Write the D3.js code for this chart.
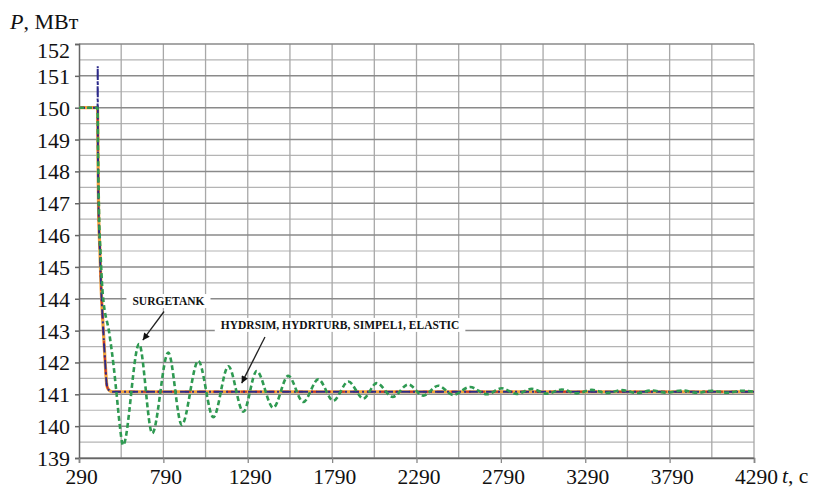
<!DOCTYPE html>
<html><head><meta charset="utf-8">
<script src="https://cdn.jsdelivr.net/npm/d3@7"></script>
<style>body{margin:0;background:#fff}svg{display:block}</style>
</head><body>
<svg id="c" width="823" height="495"></svg>
<script>
// ---- data ----
const yTicks = [139,140,141,142,143,144,145,146,147,148,149,150,151,152];
const yMinorGrid = [139.5,140.5,141.5,142.5,143.5,144.5,145.5,146.5,147.5,148.5,149.5,150.5,151.5];
const xTicks = [290,790,1290,1790,2290,2790,3290,3790,4290];
const xGrid = [540,790,1040,1290,1540,1790,2040,2290,2540,2790,3040,3290,3540,3790,4040,4290];

// HYDRSIM, HYDRTURB, SIMPEL1, ELASTIC (coincident curves)
const tMain = [290,400,402,406,414,420,430,444,456,470,490,4290];
const pMain = [150,150,148.8,146.8,145.5,144.5,143.4,142.1,141.25,141.12,141.08,141.08];
// blue curve with the initial overshoot
const tBlue = [290,400,401,402,406,414,420,430,444,456,470,490,4290];
const pBlue = [150,150,151.3,148.8,146.8,145.5,144.5,143.4,142.1,141.25,141.12,141.08,141.08];
// SURGETANK
const tGreen = [290,400,403,410,417,425,430,470,495,512,530,551,646,724,819,899,997,1086,1175,1264,1343,1441,1530,1619,1708,1797,1886,1975,2054,2149,2241,2330,2419,2508,2607,2706,2795,2884,2973,3062,3151,3240,3329,3418,3507,3596,3685,3774,3863,3952,4041,4130,4219,4290];
const pGreen = [150,150,148.6,146.4,145.5,144.6,144.2,142.9,141.9,141.05,140.1,139.4,142.58,139.78,142.31,140.04,142.05,140.28,141.88,140.45,141.73,140.58,141.58,140.76,141.47,140.8,141.4,140.87,141.35,140.92,141.31,140.96,141.27,140.98,141.23,141.0,141.19,141.01,141.17,141.02,141.15,141.03,141.14,141.04,141.13,141.04,141.12,141.05,141.12,141.05,141.11,141.05,141.11,141.08];

// annotations
const annLabels = ["SURGETANK", "HYDRSIM, HYDRTURB, SIMPEL1, ELASTIC"];
const annLabelT = [820, 1837];
const annLabelP = [143.93, 143.18];
const annFromT = [794, 1392];
const annFromP = [143.6, 142.8];
const annToT = [668, 1254];
const annToP = [142.7, 141.35];

// ---- drawing ----
const SERIF = '"Liberation Serif"';
const svg = d3.select("#c");
const x = d3.scaleLinear().domain([290,4290]).range([79,754]);
const y = d3.scaleLinear().domain([139,152]).range([458,44]);

const defs = svg.append("defs");
defs.append("marker").attr("id","ah").attr("viewBox","0 0 10 10").attr("refX",10).attr("refY",5)
  .attr("markerWidth",9).attr("markerHeight",7).attr("markerUnits","userSpaceOnUse").attr("orient","auto")
  .append("path").attr("d","M0,0L10,5L0,10z").attr("fill","#111");

const g = svg.append("g");
g.selectAll(".hm").data(yMinorGrid).enter().append("line")
  .attr("x1",x(290)).attr("x2",x(4290)).attr("y1",d=>y(d)).attr("y2",d=>y(d))
  .attr("stroke","#b4b4b4").attr("stroke-width",1.2);
g.selectAll(".vg").data(xGrid).enter().append("line")
  .attr("x1",d=>x(d)).attr("x2",d=>x(d)).attr("y1",y(139)).attr("y2",y(152))
  .attr("stroke","#a8a8a8").attr("stroke-width",1.3);
g.selectAll(".hM").data(yTicks).enter().append("line")
  .attr("x1",x(290)).attr("x2",x(4290)).attr("y1",d=>y(d)).attr("y2",d=>y(d))
  .attr("stroke","#8a8a8a").attr("stroke-width",1.5);

// axes
const yAxis = d3.axisLeft(y).tickValues(yTicks).tickSize(4).tickPadding(5).tickFormat(d3.format("d"));
const ya = svg.append("g").attr("transform",`translate(${x(290)},0)`).call(yAxis);
ya.select(".domain").attr("stroke","#666").attr("stroke-width",1.5);
ya.selectAll(".tick line").attr("stroke","#666").attr("stroke-width",1.5);
ya.selectAll(".tick text").style("font-family",SERIF).attr("font-size",22).attr("fill","#111")
  .attr("dy", d => d===152 ? "0.6em" : "0.34em");

const xAxis = d3.axisBottom(x).tickValues(xTicks).tickSize(5).tickPadding(6).tickFormat(d3.format("d"));
const xa = svg.append("g").attr("transform",`translate(0,${y(139)})`).call(xAxis);
xa.select(".domain").attr("stroke","#666").attr("stroke-width",1.5);
xa.selectAll(".tick line").attr("stroke","#888").attr("stroke-width",1.3);
xa.selectAll(".tick text").style("font-family",SERIF).attr("font-size",21.5).attr("fill","#111").attr("dx",2);

// axis titles
const yt = svg.append("text").attr("x",10).attr("y",29).style("font-family",SERIF).attr("font-size",22).attr("fill","#111");
yt.append("tspan").attr("font-style","italic").text("P");
yt.append("tspan").text(", МВт");
const xt = svg.append("text").attr("x",782).attr("y",483).style("font-family",SERIF).attr("font-size",21.5).attr("fill","#111");
xt.append("tspan").attr("font-style","italic").text("t");
xt.append("tspan").text(", с");

// curves
const line = (ts, ps) => d3.line().x((d,i)=>x(ts[i])).y((d,i)=>y(ps[i])).curve(d3.curveMonotoneX)(ts);
const lines = svg.append("g").attr("fill","none").attr("stroke-linejoin","round");
lines.append("path").attr("d",line(tMain,pMain)).attr("stroke","#f2a33a").attr("stroke-width",3.2);
lines.append("path").attr("d",line(tMain,pMain)).attr("stroke","#c8372a").attr("stroke-width",2).attr("stroke-dasharray","6,8");
lines.append("path").attr("d",line(tBlue,pBlue)).attr("stroke","#2c2a8a").attr("stroke-width",2).attr("stroke-dasharray","9,3,2,3").attr("stroke-dashoffset",3);
lines.append("path").attr("d",line(tGreen,pGreen)).attr("stroke","#2f9a52").attr("stroke-width",2.6).attr("stroke-dasharray","5,3");

// annotations
const ann = svg.append("g");
annLabels.forEach((lab,i)=>{
  const t = ann.append("text").attr("x",x(annLabelT[i])).attr("y",y(annLabelP[i])).attr("dy","0.35em")
    .attr("text-anchor","middle").style("font-family",SERIF).attr("font-weight","bold").attr("font-size",11.5)
    .attr("fill","#111").text(lab);
  const bb = t.node().getBBox();
  ann.insert("rect", () => t.node()).attr("x",bb.x-6).attr("y",bb.y-1).attr("width",bb.width+12).attr("height",bb.height+2).attr("fill","#fff");
  ann.append("line").attr("x1",x(annFromT[i])).attr("y1",y(annFromP[i])).attr("x2",x(annToT[i])).attr("y2",y(annToP[i]))
    .attr("stroke","#222").attr("stroke-width",1.3).attr("marker-end","url(#ah)");
});
</script>
</body></html>
